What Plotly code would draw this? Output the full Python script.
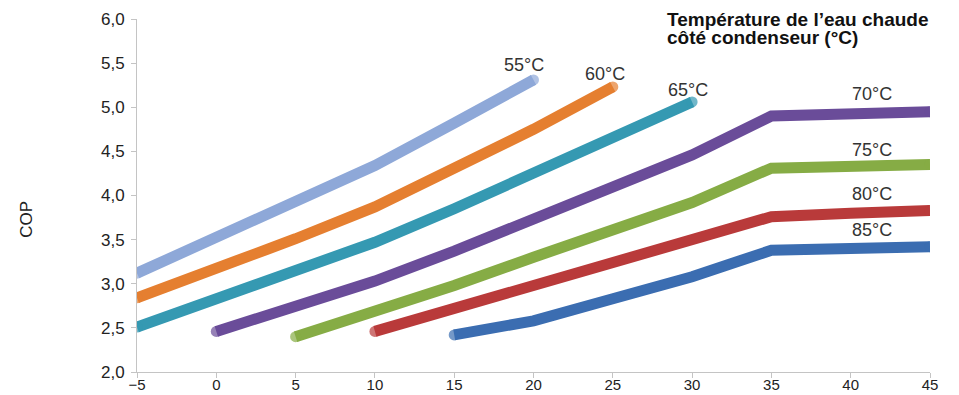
import plotly.graph_objects as go

series_names = ["55°C", "60°C", "65°C", "70°C", "75°C", "80°C", "85°C"]
series_x = [
    [-5, 0, 5, 10, 15, 20],
    [-5, 0, 5, 10, 15, 20, 25],
    [-5, 0, 5, 10, 15, 20, 25, 30],
    [0, 5, 10, 15, 20, 25, 30, 35, 40, 45],
    [5, 10, 15, 20, 25, 30, 35, 40, 45],
    [10, 15, 20, 25, 30, 35, 40, 45],
    [15, 20, 25, 30, 35, 40, 45],
]
series_y = [
    [3.12, 3.53, 3.94, 4.34, 4.82, 5.31],
    [2.84, 3.17, 3.51, 3.87, 4.30, 4.75, 5.23],
    [2.51, 2.82, 3.13, 3.47, 3.85, 4.25, 4.65, 5.06],
    [2.46, 2.73, 3.03, 3.37, 3.74, 4.10, 4.46, 4.90, 4.93, 4.95],
    [2.40, 2.68, 2.98, 3.30, 3.62, 3.92, 4.31, 4.33, 4.35],
    [2.46, 2.72, 2.98, 3.25, 3.50, 3.76, 3.80, 3.83],
    [2.42, 2.58, 2.83, 3.08, 3.38, 3.40, 3.42],
]
colors = ["#8EA8D8", "#E57F30", "#3599B2", "#6A4C99", "#86AC45", "#B93A3A", "#3B6DB1"]

# label anchor positions (data coords)
label_pos = [(19.37, 5.48), (24.48, 5.38), (29.77, 5.195), (41.37, 5.155), (41.37, 4.515), (41.37, 4.02), (41.37, 3.61)]
title_lines = ["Température de l’eau chaude", "côté condenseur (°C)"]
title_y = [1.0, 0.948]

FONT = "Liberation Sans, Arial"

fig = go.Figure()
for name, xs, ys, c in zip(series_names, series_x, series_y, colors):
    sizes = [0] * len(xs)
    sizes[0] = 11
    sizes[-1] = 11
    fig.add_trace(go.Scatter(
        x=xs, y=ys, mode="lines+markers", name=name,
        line=dict(color=c, width=11),
        marker=dict(color=c, size=sizes, line=dict(width=0)),
        showlegend=False, hoverinfo="skip",
    ))

for name, (lx, ly) in zip(series_names, label_pos):
    fig.add_annotation(x=lx, y=ly, text=name, showarrow=False,
                       font=dict(family=FONT, size=18, color="#333333"),
                       xanchor="center", yanchor="middle")

for line, ty in zip(title_lines, title_y):
    fig.add_annotation(x=28.3, yref="paper", y=ty, text="<b>" + line + "</b>", showarrow=False,
                       xanchor="left", yanchor="middle",
                       font=dict(family=FONT, size=19, color="#111111"))

fig.add_annotation(xref="paper", x=-0.1393, y=3.73, text="COP", showarrow=False,
                   textangle=-90, xanchor="center", yanchor="middle",
                   font=dict(family=FONT, size=17, color="#222222"))

fig.update_layout(
    width=959, height=395,
    margin=dict(l=129, r=37, t=11, b=31),
    paper_bgcolor="white", plot_bgcolor="white",
    xaxis=dict(range=[-5, 45], tickvals=list(range(-5, 50, 5)), automargin=False,
               showgrid=False, zeroline=False, showline=True, linecolor="#C4C4C4",
               ticks="outside", ticklen=5, tickcolor="#C4C4C4", ticklabelstandoff=-6,
               tickfont=dict(family=FONT, size=15, color="#222222")),
    yaxis=dict(range=[2, 6], tickvals=[2, 2.5, 3, 3.5, 4, 4.5, 5, 5.5, 6], automargin=False,
               ticktext=["2,0", "2,5", "3,0", "3,5", "4,0", "4,5", "5,0", "5,5", "6,0"],
               showgrid=False, zeroline=False, showline=True, linecolor="#C4C4C4",
               ticks="outside", ticklen=5, tickcolor="#C4C4C4", ticklabelstandoff=3,
               tickfont=dict(family=FONT, size=17, color="#222222")),
)

fig.write_html("out.html")
